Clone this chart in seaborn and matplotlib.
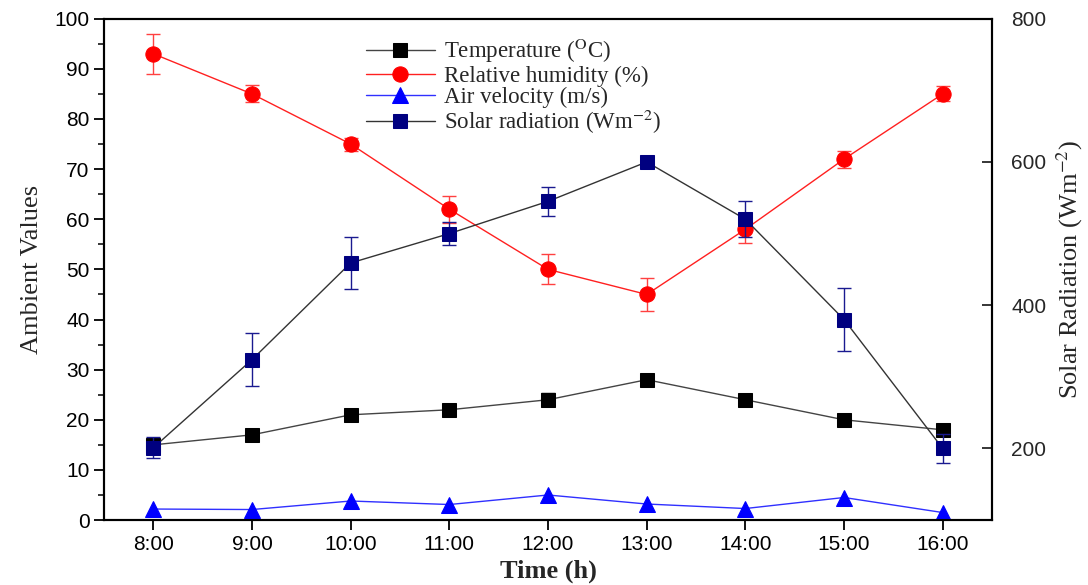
import pandas as pd
import matplotlib
matplotlib.use('Agg')
import matplotlib.pyplot as plt
import seaborn as sns

hours = [8, 9, 10, 11, 12, 13, 14, 15, 16]
hour_labels = ['8:00', '9:00', '10:00', '11:00', '12:00', '13:00', '14:00', '15:00', '16:00']

temperature = [15, 17, 21, 22, 24, 28, 24, 20, 18]
temperature_err = [1.0, 0.5, 1.2, 0.6, 1.3, 0.5, 0.5, 1.1, 0.5]
humidity = [93, 85, 75, 62, 50, 45, 58, 72, 85]
humidity_err = [4.0, 1.7, 1.3, 2.7, 3.0, 3.3, 2.8, 1.7, 1.5]
air_velocity = [2.2, 2.1, 3.8, 3.1, 5.0, 3.2, 2.3, 4.5, 1.5]
air_velocity_err = [0.5, 0.5, 0.6, 0.5, 0.6, 0.5, 0.5, 0.5, 0.4]
solar = [201, 324, 459, 500, 545, 600, 520, 380, 200]
solar_err = [15, 37, 36, 16, 20, 3, 25, 44, 20]

df = pd.DataFrame({'hour': hours, 'temperature': temperature, 'humidity': humidity,
                   'air_velocity': air_velocity, 'solar': solar})

sns.set_style('ticks')
plt.rcParams['font.family'] = ['Liberation Sans', 'DejaVu Sans']
plt.rcParams['mathtext.fontset'] = 'stix'

fig = plt.figure(figsize=(10.88, 5.85), dpi=100)
ax = fig.add_axes([0.0956, 0.111, 0.8162, 0.857])
ax2 = ax.twinx()

serif = 'Liberation Serif'

# left axis series
ax.errorbar(hours, temperature, yerr=temperature_err, fmt='none', ecolor='black', elinewidth=1, capsize=5, zorder=2)
sns.lineplot(data=df, x='hour', y='temperature', ax=ax, color='#444444', lw=1, marker='s', markersize=10,
             markerfacecolor='black', markeredgecolor='black', label=r'Temperature ($^{\mathrm{O}}$C)', zorder=3)
ax.errorbar(hours, humidity, yerr=humidity_err, fmt='none', ecolor='#ff4040', elinewidth=1, capsize=5, zorder=2)
sns.lineplot(data=df, x='hour', y='humidity', ax=ax, color='#ff2020', lw=1, marker='o', markersize=11,
             markerfacecolor='red', markeredgecolor='red', label='Relative humidity (%)', zorder=3)
ax.errorbar(hours, air_velocity, yerr=air_velocity_err, fmt='none', ecolor='blue', elinewidth=1, capsize=0, zorder=2)
sns.lineplot(data=df, x='hour', y='air_velocity', ax=ax, color='#3030ff', lw=1, marker='^', markersize=11,
             markerfacecolor='blue', markeredgecolor='blue', label='Air velocity (m/s)', zorder=3)

# right axis series
ax2.errorbar(hours, solar, yerr=solar_err, fmt='none', ecolor='#1a1a90', elinewidth=1, capsize=5, zorder=2)
sns.lineplot(data=df, x='hour', y='solar', ax=ax2, color='#333333', lw=1, marker='s', markersize=10,
             markerfacecolor='#000080', markeredgecolor='#000080', label=r'Solar radiation (Wm$^{\mathrm{-2}}$)', zorder=3)

ax.set_xlim(7.5, 16.5)
ax.set_ylim(0, 100)
ax2.set_ylim(100, 800)
ax.set_xticks(hours)
ax.set_xticklabels(hour_labels)
ax.set_yticks(range(0, 101, 10))
ax.set_yticks(range(5, 100, 10), minor=True)
ax2.set_yticks([200, 400, 600, 800])

ax.tick_params(axis='both', which='major', direction='out', length=7, width=1.3, labelsize=15, colors='black')
ax.tick_params(axis='y', which='minor', direction='out', length=4, width=1.3)
ax2.tick_params(axis='y', which='major', direction='in', length=7, width=1.3, labelsize=15, pad=14)

for a in (ax, ax2):
    for s in a.spines.values():
        s.set_linewidth(1.5)
        s.set_color('black')

ax.set_xlabel('Time (h)', family=serif, fontsize=19, fontweight='bold', labelpad=4)
ax.set_ylabel('Ambient Values', family=serif, fontsize=19, labelpad=8)
ax2.set_ylabel(r'Solar Radiation (Wm$^{\mathrm{-2}}$)', family=serif, fontsize=19, labelpad=6)

h1, l1 = ax.get_legend_handles_labels()
h2, l2 = ax2.get_legend_handles_labels()
if ax2.get_legend():
    ax2.get_legend().remove()
ax.legend(h1 + h2, l1 + l2, loc='upper left', bbox_to_anchor=(0.277, 0.995), frameon=False,
          prop={'family': serif, 'size': 16.5}, handlelength=3.0, labelspacing=0.0, borderpad=0.2,
          handletextpad=0.4)

fig.savefig('out.png', dpi=100)
